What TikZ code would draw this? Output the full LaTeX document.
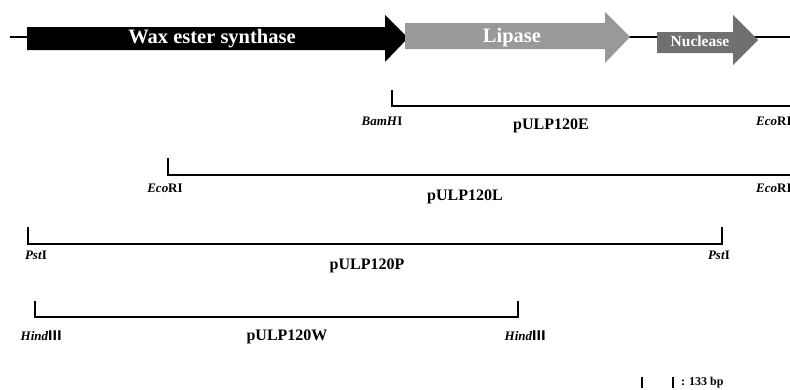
\documentclass[tikz,border=0pt]{standalone}
\usepackage{fontspec}
\setmainfont{Liberation Serif}
\newfontfamily\cjk{Noto Sans CJK SC}
\newcommand{\romthree}{{\cjk Ⅲ}}
\begin{document}
\begin{tikzpicture}[x=1pt,y=-1pt,
  backbone/.style={line width=1.3pt},
  bracket/.style={line width=2.6pt,line cap=butt,line join=miter},
  genelabel/.style={font=\bfseries\fontsize{20.5}{24}\selectfont,text=white,inner sep=0pt},
  smallgene/.style={font=\bfseries\fontsize{15.5}{18}\selectfont,text=white,inner sep=0pt},
  enzyme/.style={font=\bfseries\fontsize{13}{15}\selectfont,inner sep=0pt},
  clone/.style={font=\bfseries\fontsize{16}{19}\selectfont,inner sep=0pt},
  scalelbl/.style={font=\bfseries\fontsize{12}{14}\selectfont,inner sep=0pt,anchor=west}]
\useasboundingbox (0,0) rectangle (790,389);
\clip (0,0) rectangle (790,389);

% DNA backbone
\coordinate (bbL) at (10,37);
\coordinate (bbR) at (795,37);
\draw[backbone] (bbL) -- (bbR);

% gene arrows
\fill[black] (27,27) -- (385,27) -- (385,15) -- (408,38) -- (385,62) -- (385,50) -- (27,50) -- cycle;
\fill[black!40] (405,23) -- (605,23) -- (605,12) -- (630,37) -- (605,63) -- (605,49) -- (405,49) -- cycle;
\fill[black!56] (657,32) -- (733,32) -- (733,15) -- (758,40) -- (733,65) -- (733,53) -- (657,53) -- cycle;
\node[genelabel] (wes) at (212,39) {Wax ester synthase};
\node[genelabel] (lip) at (512,38) {Lipase};
\node[smallgene] (nuc) at (700,41) {Nuclease};

% pULP120E
\coordinate (e1t) at (392,90);
\coordinate (e1) at (392,106);
\coordinate (e2) at (800,106);
\draw[bracket] (e1t) -- (e1) -- (e2);
\node[enzyme] (eL) at (382,121) {\textit{BamH}I};
\node[enzyme,anchor=west] (eR) at (756,121) {\textit{Eco}RI};
\node[clone] (eN) at (551,126) {pULP120E};

% pULP120L
\coordinate (l1t) at (168,158);
\coordinate (l1) at (168,175);
\coordinate (l2) at (800,175);
\draw[bracket] (l1t) -- (l1) -- (l2);
\node[enzyme] (lL) at (165,188) {\textit{Eco}RI};
\node[enzyme,anchor=west] (lR) at (756,188) {\textit{Eco}RI};
\node[clone] (lN) at (465,197) {pULP120L};

% pULP120P
\coordinate (p1t) at (28,227);
\coordinate (p1) at (28,244);
\coordinate (p2) at (722,244);
\coordinate (p2t) at (722,227);
\draw[bracket] (p1t) -- (p1) -- (p2) -- (p2t);
\node[enzyme] (pL) at (36,255) {\textit{Pst}I};
\node[enzyme] (pR) at (719,255) {\textit{Pst}I};
\node[clone] (pN) at (367,266) {pULP120P};

% pULP120W
\coordinate (w1t) at (35,301);
\coordinate (w1) at (35,317);
\coordinate (w2) at (518,317);
\coordinate (w2t) at (518,301);
\draw[bracket] (w1t) -- (w1) -- (w2) -- (w2t);
\node[enzyme] (wL) at (41,336) {\textit{Hind}\romthree};
\node[enzyme] (wR) at (525,336) {\textit{Hind}\romthree};
\node[clone] (wN) at (287,337) {pULP120W};

% scale bar
\coordinate (s1t) at (642,377);
\coordinate (s1b) at (642,388);
\coordinate (s2t) at (673,377);
\coordinate (s2b) at (673,388);
\draw[line width=1.2pt] (s1t) -- (s1b);
\draw[line width=1.2pt] (s2t) -- (s2b);
\node[scalelbl] (sc) at (681,383) {: 133 bp};
\end{tikzpicture}
\end{document}
